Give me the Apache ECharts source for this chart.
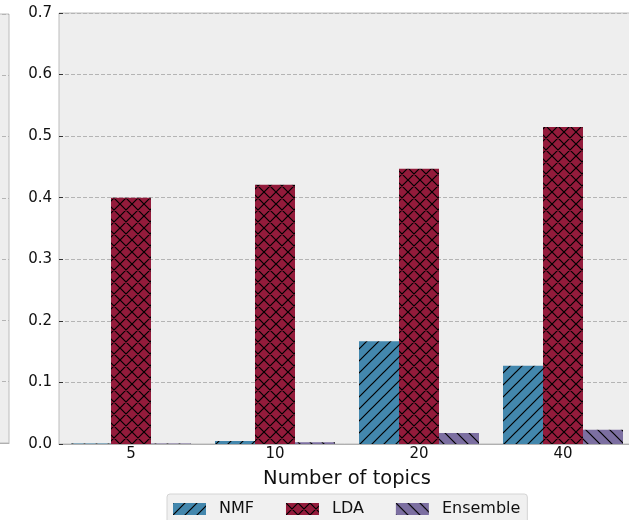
<!DOCTYPE html>
<html>
<head>
<meta charset="utf-8">
<script src="https://cdn.jsdelivr.net/npm/echarts@6/dist/echarts.min.js"></script>
<style>
  html, body { margin: 0; padding: 0; background: #ffffff; }
  #chart { width: 629px; height: 520px; }
</style>
</head>
<body>
<div id="chart"></div>
<script>
// Topic counts on the x axis
const topicCounts = ['5', '10', '20', '40'];

// Scores per method
const nmfValues = [0.001, 0.005, 0.167, 0.127];
const ldaValues = [0.400, 0.421, 0.447, 0.515];
const ensembleValues = [0.001, 0.003, 0.018, 0.023];

// Y axis ticks
const yTicks = ['0.0', '0.1', '0.2', '0.3', '0.4', '0.5', '0.6', '0.7'];

const FONT = 'DejaVu Sans';

// Build a repeating hatch tile: '/', '\\' or 'x'
function hatch(fill, kind) {
  const s = 12;
  const c = document.createElement('canvas');
  c.width = s; c.height = s;
  const g = c.getContext('2d');
  g.fillStyle = fill;
  g.fillRect(0, 0, s, s);
  g.strokeStyle = '#000000';
  g.lineWidth = 1.2;
  g.beginPath();
  if (kind === '/' || kind === 'x') {
    g.moveTo(-2, s + 2); g.lineTo(s + 2, -2);
    g.moveTo(-2, 2); g.lineTo(2, -2);
    g.moveTo(s - 2, s + 2); g.lineTo(s + 2, s - 2);
  }
  if (kind === '\\' || kind === 'x') {
    g.moveTo(-2, -2); g.lineTo(s + 2, s + 2);
    g.moveTo(s - 2, -2); g.lineTo(s + 2, 2);
    g.moveTo(-2, s - 2); g.lineTo(2, s + 2);
  }
  g.stroke();
  return { image: c, repeat: 'repeat' };
}

const nmfFill = hatch('#4387ad', '/');
const ldaFill = hatch('#931b3b', 'x');
const ensFill = hatch('#7c6fa1', '\\');

const chart = echarts.init(document.getElementById('chart'), null, { renderer: 'canvas' });

const splitLine = { show: true, lineStyle: { color: '#b4b4b4', type: [4, 2], width: 1 } };

chart.setOption({
  backgroundColor: '#ffffff',
  animation: false,
  grid: [
    { left: 59, top: 13, width: 576, bottom: 76, show: true, outerBoundsMode: 'none',
      containLabel: false,
      backgroundColor: '#eeeeee', borderColor: '#bcbcbc', borderWidth: 1 },
    { left: -100, top: 14, width: 109, bottom: 77, show: true, outerBoundsMode: 'none',
      containLabel: false,
      backgroundColor: '#eeeeee', borderColor: '#bcbcbc', borderWidth: 1 }
  ],
  xAxis: [
    {
      type: 'category', gridIndex: 0, data: topicCounts,
      axisLine: { show: true, lineStyle: { color: '#b0b0b0' } },
      axisTick: { show: true, inside: true, length: 4, alignWithLabel: true,
        lineStyle: { color: '#333333' } },
      axisLabel: { color: '#111111', fontFamily: FONT, fontSize: 15, margin: 3 },
      name: 'Number of topics', nameLocation: 'middle', nameGap: 25,
      nameTextStyle: { color: '#111111', fontFamily: FONT, fontSize: 19.5 }
    },
    {
      type: 'value', gridIndex: 1, min: 0, max: 1,
      axisLine: { show: true, lineStyle: { color: '#b0b0b0' } },
      axisTick: { show: false }, axisLabel: { show: false }, splitLine: { show: false }
    }
  ],
  yAxis: [
    {
      type: 'value', gridIndex: 0, min: 0, max: 0.7, interval: 0.1,
      axisLine: { show: false },
      axisTick: { show: true, inside: true, length: 4, lineStyle: { color: '#333333' } },
      axisLabel: { color: '#111111', fontFamily: FONT, fontSize: 15, margin: 7,
        formatter: (v) => yTicks[Math.round(v * 10)] },
      splitLine: splitLine
    },
    {
      type: 'value', gridIndex: 1, min: 0, max: 0.7, interval: 0.1,
      axisLine: { show: false }, axisTick: { show: false },
      axisLabel: { show: false }, splitLine: splitLine
    }
  ],
  legend: {
    left: 167, top: 494,
    padding: [7, 7, 7, 6],
    itemWidth: 33, itemHeight: 12, itemGap: 32,
    backgroundColor: '#f0f0f0', borderColor: '#d4d4d4', borderWidth: 1, borderRadius: 3,
    textStyle: { color: '#111111', fontFamily: FONT, fontSize: 16, padding: [0, 0, 0, 8] },
    data: [
      { name: 'NMF', icon: 'rect', itemStyle: { color: nmfFill } },
      { name: 'LDA', icon: 'rect', itemStyle: { color: ldaFill } },
      { name: 'Ensemble', icon: 'rect', itemStyle: { color: ensFill } }
    ]
  },
  series: [
    { name: 'NMF', type: 'bar', xAxisIndex: 0, yAxisIndex: 0, data: nmfValues,
      barWidth: 40, barGap: '0%', itemStyle: { color: nmfFill } },
    { name: 'LDA', type: 'bar', xAxisIndex: 0, yAxisIndex: 0, data: ldaValues,
      barWidth: 40, barGap: '0%', itemStyle: { color: ldaFill } },
    { name: 'Ensemble', type: 'bar', xAxisIndex: 0, yAxisIndex: 0, data: ensembleValues,
      barWidth: 40, barGap: '0%', itemStyle: { color: ensFill } }
  ]
});
</script>
</body>
</html>
